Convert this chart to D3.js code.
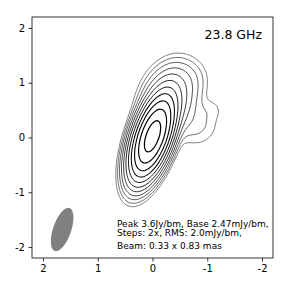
<!DOCTYPE html>
<html lang="en">
<head>
<meta charset="utf-8">
<title>23.8 GHz map</title>
<script src="https://cdn.jsdelivr.net/npm/d3@7"></script>
<style>
  body { margin: 0; background: #fff; }
  text { font-family: "DejaVu Sans", sans-serif; fill: #000; }
</style>
</head>
<body>
<div id="chart"></div>
<script>
// tick values (mas)
var xTicks = [2, 1, 0, -1, -2];
var yTicks = [-2, -1, 0, 1, 2];

// contour levels, Jy/beam (base 2.47 mJy/bm, steps 2x)
var levels = [0.00247, 0.00494, 0.00988, 0.01976, 0.03952, 0.07904, 0.1581, 0.3162, 0.6323, 1.2646, 2.5293];

// gaussian components: position (mas), peak (Jy/bm), fwhm (mas), pa (deg)
var compX    = [0.0,  -0.30, -0.80, -1.10, -0.65];
var compY    = [0.02,  0.70,  0.25,  0.52,  1.08];
var compPeak = [3.6,   0.078, 0.006, 0.002, 0.006];
var compMaj  = [0.83,  0.75,  0.60,  0.28,  0.50];
var compMin  = [0.33,  0.54,  0.60,  0.28,  0.50];
var compPA   = [-19,  -19,    0,     0,     0];

// restoring beam
var beamPos = [1.65, -1.68];
var beamSize = [0.83, 0.33];
var beamPA = -19;

var freqLabel = "23.8 GHz";
var infoLines = ["Peak 3.6Jy/bm, Base 2.47mJy/bm,", "Steps: 2x, RMS: 2.0mJy/bm,", "Beam: 0.33 x 0.83 mas"];

var W = 289, H = 289;
var m = {left: 32, right: 16, top: 17, bottom: 31};
var lim = 2.2;

var svg = d3.select("#chart").append("svg").attr("width", W).attr("height", H);

var x = d3.scaleLinear().domain([lim, -lim]).range([m.left, W - m.right]);
var y = d3.scaleLinear().domain([-lim, lim]).range([H - m.bottom, m.top]);

// sample the model on a grid
var n = 240, step = 2 * lim / n;
var values = new Array(n * n);
for (var j = 0; j < n; j++) {
  var gy = lim - (j + 0.5) * step;
  for (var i = 0; i < n; i++) {
    var gx = lim - (i + 0.5) * step;
    var s = 0;
    for (var c = 0; c < compX.length; c++) {
      var pa = compPA[c] * Math.PI / 180;
      var dx = gx - compX[c], dy = gy - compY[c];
      var u = dx * Math.sin(pa) + dy * Math.cos(pa);
      var v = dx * Math.cos(pa) - dy * Math.sin(pa);
      var su = compMaj[c] / 2.3548, sv = compMin[c] / 2.3548;
      s += compPeak[c] * Math.exp(-0.5 * (u * u / (su * su) + v * v / (sv * sv)));
    }
    values[j * n + i] = s;
  }
}

var contours = d3.contours().size([n, n]).thresholds(levels)(values);

var toPix = d3.geoTransform({
  point: function(px, py) {
    this.stream.point(x(lim - px * step), y(lim - py * step));
  }
});
var path = d3.geoPath(toPix);

svg.append("clipPath").attr("id", "clip").append("rect")
  .attr("x", m.left).attr("y", m.top)
  .attr("width", W - m.left - m.right).attr("height", H - m.top - m.bottom);

var width = d3.scaleLinear().domain([0, levels.length - 1]).range([0.5, 1.25]);

svg.append("g").attr("clip-path", "url(#clip)")
  .selectAll("path").data(contours).enter().append("path")
  .attr("d", path)
  .attr("fill", "none")
  .attr("stroke", "#000")
  .attr("stroke-width", function(d, k) { return width(k); });

// beam
svg.append("ellipse")
  .attr("cx", x(beamPos[0])).attr("cy", y(beamPos[1]))
  .attr("rx", Math.abs(x(beamSize[1] / 2) - x(0)))
  .attr("ry", Math.abs(y(beamSize[0] / 2) - y(0)))
  .attr("transform", "rotate(" + (-beamPA) + "," + x(beamPos[0]) + "," + y(beamPos[1]) + ")")
  .attr("fill", "#808080");

// axes
var fmt = function(d) { return String(d); };
var xAxis = svg.append("g").attr("transform", "translate(0," + (H - m.bottom) + ")")
  .call(d3.axisBottom(x).tickValues(xTicks).tickFormat(fmt).tickSize(3.5).tickPadding(3.5));
var yAxis = svg.append("g").attr("transform", "translate(" + m.left + ",0)")
  .call(d3.axisLeft(y).tickValues(yTicks).tickFormat(fmt).tickSize(3.5).tickPadding(3.5));
[xAxis, yAxis].forEach(function(a) {
  a.select(".domain").remove();
  a.selectAll("line").attr("stroke", "#000").attr("stroke-width", 0.8);
  a.selectAll("text").attr("font-size", 10).attr("font-family", "DejaVu Sans");
});

svg.append("rect")
  .attr("x", m.left).attr("y", m.top)
  .attr("width", W - m.left - m.right).attr("height", H - m.top - m.bottom)
  .attr("fill", "none").attr("stroke", "#000").attr("stroke-width", 0.8);

svg.append("text").attr("x", 262).attr("y", 38.5)
  .attr("text-anchor", "end").attr("font-size", 12.5).text(freqLabel);

var infoY = [227, 236, 249];
svg.selectAll(".info").data(infoLines).enter().append("text")
  .attr("class", "info")
  .attr("x", 117).attr("y", function(d, k) { return infoY[k]; })
  .attr("font-size", 9).text(function(d) { return d; });
</script>
</body>
</html>
